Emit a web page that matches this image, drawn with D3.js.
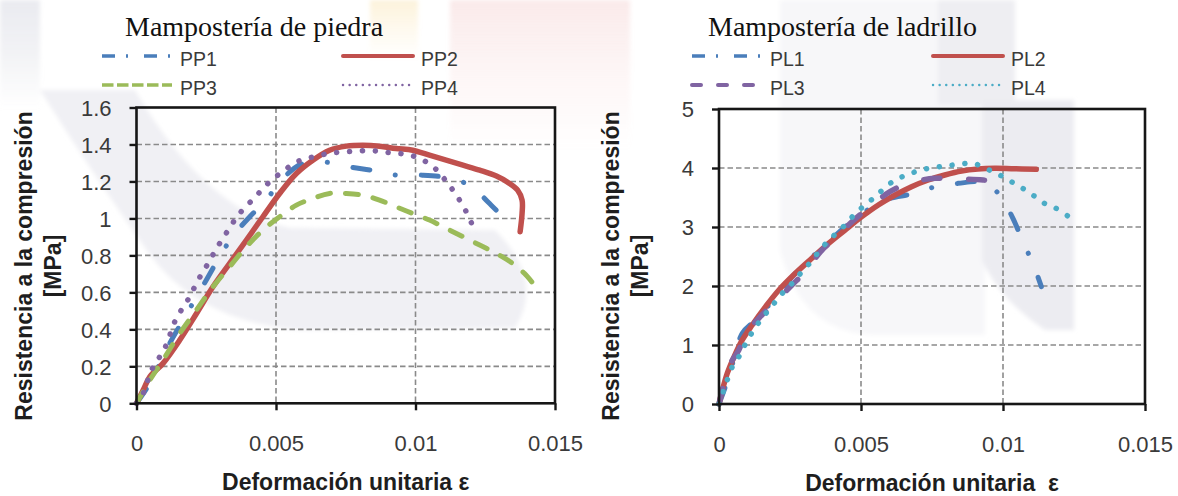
<!DOCTYPE html>
<html lang="es">
<head>
<meta charset="utf-8">
<title>Curvas esfuerzo-deformación de mampostería</title>
<script src="https://cdn.jsdelivr.net/npm/d3@7"></script>
<style>
  html, body { margin: 0; padding: 0; background: #ffffff; }
  svg { display: block; }
  .tick-label { font-family: "Liberation Sans", Arial, sans-serif; font-size: 22px; fill: #3a3a3a; }
  .legend-label { font-family: "Liberation Sans", Arial, sans-serif; font-size: 19.5px; fill: #3a3a3a; }
  .axis-title { font-family: "Liberation Sans", Arial, sans-serif; font-size: 23px; font-weight: bold; fill: #1e1e1e; white-space: pre; }
  .panel-title { font-family: "Liberation Serif", "Times New Roman", serif; font-size: 28px; fill: #111; }
</style>
</head>
<body>
<svg id="chart" width="1178" height="496"></svg>
<script>
// ---- Data: unit strain (ε) vs compressive strength (MPa) ----
const stoneSeries = ["PP1", "PP2", "PP3", "PP4"];
const brickSeries = ["PL1", "PL2", "PL3", "PL4"];

const PP1 = [[0,0],[0.00048,0.108],[0.00119,0.324],[0.00167,0.45],[0.00257,0.685],[0.00298,0.793],
  [0.00346,0.905],[0.00406,1.009],[0.00465,1.099],[0.00519,1.207],[0.00591,1.294],[0.00668,1.306],
  [0.00761,1.279],[0.00853,1.258],[0.00931,1.234],[0.01024,1.234],[0.01104,1.222],[0.01193,1.18],
  [0.01259,1.09],[0.01322,0.982],[0.01325,0.928]];
const PP2 = [[0,0],[0.00024,0.072],[0.00048,0.144],[0.00095,0.216],[0.00155,0.342],[0.00215,0.486],
  [0.00274,0.63],[0.00334,0.757],[0.00394,0.883],[0.00453,1.009],[0.00513,1.135],[0.00573,1.243],
  [0.00632,1.315],[0.00692,1.369],[0.00752,1.391],[0.00811,1.396],[0.00871,1.391],[0.0093,1.378],
  [0.0099,1.369],[0.0105,1.342],[0.0111,1.315],[0.0117,1.288],[0.0123,1.261],[0.0129,1.229],
  [0.01337,1.189],[0.01366,1.153],[0.01382,1.099],[0.01382,1.027],[0.01375,0.928]];
const PP3 = [[0,0],[0.00048,0.126],[0.00095,0.234],[0.00155,0.378],[0.00215,0.505],[0.00274,0.63],
  [0.00334,0.739],[0.00394,0.847],[0.00453,0.937],[0.00513,1.009],[0.00573,1.072],[0.00632,1.108],
  [0.00692,1.135],[0.00752,1.135],[0.00811,1.126],[0.00871,1.099],[0.0093,1.063],[0.0099,1.027],
  [0.0105,0.991],[0.0111,0.946],[0.0117,0.901],[0.0123,0.856],[0.01289,0.811],[0.01348,0.757],
  [0.0139,0.703],[0.01426,0.64]];
const PP4 = [[0,0],[0.00024,0.054],[0.00054,0.18],[0.00101,0.297],[0.00137,0.441],[0.00161,0.505],
  [0.00185,0.562],[0.00209,0.631],[0.00233,0.699],[0.00257,0.757],[0.0028,0.82],[0.00304,0.879],
  [0.00331,0.942],[0.00358,1.004],[0.00388,1.059],[0.00424,1.112],[0.00453,1.162],[0.00489,1.213],
  [0.00531,1.261],[0.00567,1.301],[0.00611,1.324],[0.00659,1.342],[0.00704,1.355],[0.00752,1.36],
  [0.00802,1.366],[0.0085,1.366],[0.00897,1.357],[0.00945,1.351],[0.00993,1.337],[0.01038,1.306],
  [0.01074,1.265],[0.01107,1.207],[0.01134,1.153],[0.0116,1.094],[0.01185,1.027],[0.01205,0.96]];

const PL1 = [[0,0],[0.00035,0.463],[0.00082,1.198],[0.00129,1.424],[0.00196,1.791],[0.00269,2.215],
  [0.00374,2.695],[0.00474,3.119],[0.00585,3.458],[0.00678,3.559],[0.00754,3.672],[0.00842,3.74],
  [0.00936,3.751],[0.00988,3.542],[0.01035,3.147],[0.0107,2.751],[0.01105,2.384],[0.01135,1.989]];
const PL2 = [[0,0],[0.00012,0.237],[0.00029,0.52],[0.00053,0.8],[0.00082,1.085],[0.00117,1.339],
  [0.00164,1.65],[0.00211,1.932],[0.00269,2.215],[0.00327,2.469],[0.00386,2.723],[0.00444,2.949],
  [0.00503,3.175],[0.00561,3.373],[0.0062,3.542],[0.00678,3.684],[0.00737,3.797],[0.00795,3.881],
  [0.00854,3.949],[0.00912,3.983],[0.00971,3.994],[0.01029,3.989],[0.01117,3.977]];
const PL3 = [[0,0],[0.00012,0.237],[0.00041,0.689],[0.0007,0.915],[0.00094,1.198],[0.0014,1.452],
  [0.00187,1.678],[0.00257,2.017],[0.00298,2.215],[0.00363,2.61],[0.00409,2.808],[0.00468,3.09],
  [0.00532,3.345],[0.00602,3.599],[0.00673,3.751],[0.0076,3.825],[0.00836,3.814],[0.0093,3.797],
  [0.01006,3.74]];
const PL4 = [[0,0],[0.00029,0.407],[0.00047,0.633],[0.0007,0.802],[0.00088,0.972],[0.00111,1.169],
  [0.0014,1.379],[0.0017,1.565],[0.00199,1.734],[0.00228,1.904],[0.00263,2.073],[0.00292,2.243],
  [0.00322,2.401],[0.00351,2.582],[0.00382,2.751],[0.00415,2.904],[0.0045,3.062],[0.0048,3.232],
  [0.00515,3.373],[0.0055,3.514],[0.00582,3.655],[0.0062,3.797],[0.00661,3.881],[0.00704,3.955],
  [0.00751,4.006],[0.00798,4.034],[0.00844,4.062],[0.00895,4.079],[0.00938,3.994],[0.00982,3.898],
  [0.01023,3.785],[0.01064,3.672],[0.01105,3.542],[0.01146,3.401],[0.01187,3.316],[0.01228,3.186]];

const strainTicks = [0, 0.005, 0.01, 0.015];
const strainTickLabels = ["0", "0.005", "0.01", "0.015"];
const stoneStressTicks = [0, 0.2, 0.4, 0.6, 0.8, 1, 1.2, 1.4, 1.6];
const brickStressTicks = [0, 1, 2, 3, 4, 5];

// ---- Line styles (Office palette) ----
const styles = {
  "PP1": { color: "#4a7ebb", width: 5,   dash: "17 26 0.1 26", cap: "round", legendDash: "13 11 2 16", legendWidth: 3.5, legendCap: "butt" },
  "PP2": { color: "#c0504d", width: 5.5, dash: null,           cap: "round", legendDash: null,          legendWidth: 4,   legendCap: "round" },
  "PP3": { color: "#9bbb59", width: 5,   dash: "13 15",        cap: "round", legendDash: "11.5 3.5",    legendWidth: 3.5, legendCap: "butt" },
  "PP4": { color: "#8064a2", width: 5.5, dash: "0.1 12.8",     cap: "round", legendDash: "0.1 6.5",     legendWidth: 2.4, legendCap: "round" },
  "PL1": { color: "#4a7ebb", width: 5,   dash: "17 26 0.1 26", cap: "round", legendDash: "13 11 2 16", legendWidth: 3.5, legendCap: "butt" },
  "PL2": { color: "#c0504d", width: 5.5, dash: null,           cap: "round", legendDash: null,          legendWidth: 4,   legendCap: "round" },
  "PL3": { color: "#8064a2", width: 5.5, dash: "16 29",        cap: "round", legendDash: "9 17",        legendWidth: 4,   legendCap: "round" },
  "PL4": { color: "#4bacc6", width: 5.5, dash: "0.1 12.8",     cap: "round", legendDash: "0.1 6.5",     legendWidth: 2.4, legendCap: "round" }
};

const svg = d3.select("#chart");

// ---- Faint background watermark ----
const defs = svg.append("defs");
defs.append("filter").attr("id", "soft").append("feGaussianBlur").attr("stdDeviation", 2);
function stripeGradient(id, color, top, mid) {
  const g = defs.append("linearGradient").attr("id", id)
    .attr("x1", 0).attr("y1", 0).attr("x2", 0).attr("y2", 1);
  g.append("stop").attr("offset", 0).attr("stop-color", color).attr("stop-opacity", top);
  g.append("stop").attr("offset", 0.5).attr("stop-color", color).attr("stop-opacity", mid);
  g.append("stop").attr("offset", 1).attr("stop-color", color).attr("stop-opacity", 0);
}
stripeGradient("wm-gray", "#d5d7e0", 0.5, 0.3);
stripeGradient("wm-yellow", "#f7dc98", 0.35, 0.15);
stripeGradient("wm-pink", "#f2c4c4", 0.35, 0.15);

const wm = svg.append("g").attr("filter", "url(#soft)");
wm.append("rect").attr("x", 0).attr("y", 0).attr("width", 40).attr("height", 110).attr("fill", "url(#wm-gray)");
wm.append("rect").attr("x", 370).attr("y", 0).attr("width", 48).attr("height", 60).attr("fill", "url(#wm-yellow)");
wm.append("rect").attr("x", 450).attr("y", 0).attr("width", 180).attr("height", 150).attr("fill", "url(#wm-pink)");
wm.append("path")
  .attr("d", "M40,90 L135,90 Q205,210 290,228 L495,230 Q545,280 515,328 L300,330 Q200,322 150,255 Q90,170 40,90 Z")
  .attr("fill", "#f0f0f4");
wm.append("path")
  .attr("d", "M780,0 L985,0 L985,335 L870,335 Q800,330 780,250 Z")
  .attr("fill", "#f7f7f9");
wm.append("path")
  .attr("d", "M938,0 L1015,0 L1015,105 L938,105 Z").attr("fill", "#eeeef2");
wm.append("path")
  .attr("d", "M982,100 L1074,100 L1074,330 L1045,330 Q1000,300 982,260 Z").attr("fill", "#ececf1");

// ---- Panel drawing ----
function drawPanel(p) {
  const x = d3.scaleLinear().domain([0, 0.015]).range([p.left, p.right]);
  const y = d3.scaleLinear().domain([0, p.yMax]).range([p.bottom, p.top]);
  const g = svg.append("g");

  // grid
  const grid = g.append("g").attr("stroke", "#8a8a8a").attr("stroke-width", 1.6).attr("stroke-dasharray", "5.5 3");
  grid.selectAll("line.h").data(p.yTicks.slice(1, -1)).join("line")
    .attr("x1", p.left).attr("x2", p.right).attr("y1", d => y(d)).attr("y2", d => y(d));
  grid.selectAll("line.v").data(strainTicks.slice(1, -1)).join("line")
    .attr("x1", d => x(d)).attr("x2", d => x(d)).attr("y1", p.top).attr("y2", p.bottom);

  // series
  const line = d3.line().x(d => x(d[0])).y(d => y(d[1])).curve(d3.curveCatmullRom.alpha(0.5));
  p.series.forEach((name, i) => {
    const s = styles[name];
    g.append("path").datum(p.data[i])
      .attr("d", line).attr("fill", "none")
      .attr("stroke", s.color).attr("stroke-width", s.width)
      .attr("stroke-linecap", s.cap).attr("stroke-linejoin", "round")
      .attr("stroke-dasharray", s.dash);
  });

  // frame and axes
  g.append("rect").attr("x", p.left).attr("y", p.top)
    .attr("width", p.right - p.left).attr("height", p.bottom - p.top)
    .attr("fill", "none").attr("stroke", "#161616").attr("stroke-width", 2.6);

  const yAxis = d3.axisLeft(y).tickValues(p.yTicks).tickSize(7).tickFormat(d3.format("~g"));
  const ya = g.append("g").attr("transform", `translate(${p.left},0)`).call(yAxis);
  ya.select(".domain").remove();
  ya.selectAll(".tick line").attr("stroke", "#161616").attr("stroke-width", 2.4);
  ya.selectAll(".tick text").attr("class", "tick-label").attr("x", -25).attr("dy", "0.36em")
    .attr("font-family", null).attr("font-size", null).attr("fill", null);

  const xAxis = d3.axisBottom(x).tickValues(strainTicks).tickSize(7)
    .tickFormat((d, i) => strainTickLabels[i]);
  const xa = g.append("g").attr("transform", `translate(0,${p.bottom})`).call(xAxis);
  xa.select(".domain").remove();
  xa.selectAll(".tick line").attr("stroke", "#161616").attr("stroke-width", 2.4);
  xa.selectAll(".tick text").attr("class", "tick-label").attr("y", 48).attr("dy", 0)
    .attr("font-family", null).attr("font-size", null).attr("fill", null);

  // titles
  svg.append("text").attr("class", "panel-title").attr("x", p.titleX).attr("y", 36).text(p.title);
  svg.append("text").attr("class", "axis-title").attr("text-anchor", "middle")
    .attr("x", (p.left + p.right) / 2).attr("y", p.bottom + 87).text(p.xTitle);
  svg.append("text").attr("class", "axis-title").attr("text-anchor", "middle")
    .attr("transform", `translate(${p.yTitleX},266) rotate(-90)`).text("Resistencia a la compresión");
  svg.append("text").attr("class", "axis-title").attr("text-anchor", "middle")
    .attr("transform", `translate(${p.yTitleX + 29},266) rotate(-90)`).text("[MPa]");

  // legend (2 x 2)
  p.series.forEach((name, i) => {
    const s = styles[name];
    const col = i % 2, row = Math.floor(i / 2);
    const lx = p.legendX[col], ly = [56, 85][row];
    svg.append("line").attr("x1", lx).attr("x2", lx + 70).attr("y1", ly).attr("y2", ly)
      .attr("stroke", s.color).attr("stroke-width", s.legendWidth)
      .attr("stroke-linecap", s.legendCap).attr("stroke-dasharray", s.legendDash);
    svg.append("text").attr("class", "legend-label").attr("x", lx + 78).attr("y", ly + 9.5).text(name);
  });
}

drawPanel({
  left: 136.5, right: 555, top: 107.5, bottom: 403.3, yMax: 1.6, yTicks: stoneStressTicks,
  series: stoneSeries, data: [PP1, PP2, PP3, PP4],
  title: "Mampostería de piedra", titleX: 125,
  xTitle: "Deformación unitaria ε", yTitleX: 32, legendX: [102, 343]
});
drawPanel({
  left: 719, right: 1145, top: 109, bottom: 404, yMax: 5, yTicks: brickStressTicks,
  series: brickSeries, data: [PL1, PL2, PL3, PL4],
  title: "Mampostería de ladrillo", titleX: 708,
  xTitle: "Deformación unitaria  ε", yTitleX: 619, legendX: [692, 933]
});
</script>
</body>
</html>
